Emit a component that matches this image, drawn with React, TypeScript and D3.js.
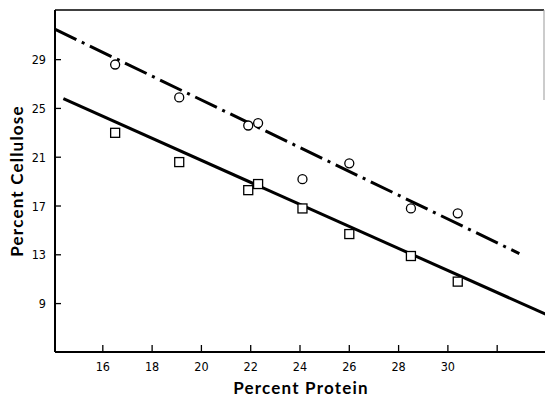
import * as d3 from "d3";
import { useEffect, useRef } from "react";

// protein (x) vs cellulose (y)
const circleProtein = [16.5, 19.1, 21.9, 22.3, 24.1, 26.0, 28.5, 30.4];
const circleCellulose = [28.6, 25.9, 23.6, 23.8, 19.2, 20.5, 16.8, 16.4];
const squareProtein = [16.5, 19.1, 21.9, 22.3, 24.1, 26.0, 28.5, 30.4];
const squareCellulose = [23.0, 20.6, 18.3, 18.8, 16.8, 14.7, 12.9, 10.8];

// fitted lines (end points)
const dashLineX = [14.05, 32.9];
const dashLineY = [31.5, 13.1];
const solidLineX = [14.4, 34.0];
const solidLineY = [25.8, 8.1];

const xTicks = [16, 18, 20, 22, 24, 26, 28, 30, 32];
const xTickLabels = ["16", "18", "20", "22", "24", "26", "28", "30", ""];
const yTicks = [9, 13, 17, 21, 25, 29];

const App = () => {
    const svgRef = useRef(null);

    useEffect(() => {
        const svg = d3.select(svgRef.current);
        svg.selectAll("*").remove();

        const width = 545;
        const height = 402;
        const left = 55, right = 545, top = 10, bottom = 352;

        svg.attr("width", width).attr("height", height);

        const x = d3.scaleLinear().domain([14.06, 33.94]).range([left, right]);
        const y = d3.scaleLinear().domain([5.03, 33.07]).range([bottom, top]);

        const font = "'DejaVu Sans Condensed', 'DejaVu Sans', sans-serif";
        const titleFont = "Lato, 'DejaVu Sans', sans-serif";

        // frame
        svg.append("line").attr("x1", left).attr("x2", left).attr("y1", top).attr("y2", bottom)
            .attr("stroke", "#000").attr("stroke-width", 2);
        svg.append("line").attr("x1", left).attr("x2", right).attr("y1", bottom).attr("y2", bottom)
            .attr("stroke", "#000").attr("stroke-width", 2);
        svg.append("line").attr("x1", left).attr("x2", right - 1).attr("y1", top).attr("y2", top)
            .attr("stroke", "#000").attr("stroke-width", 1.6);
        svg.append("line").attr("x1", right - 1).attr("x2", right - 1).attr("y1", top).attr("y2", 100)
            .attr("stroke", "#999").attr("stroke-width", 1);

        // x ticks
        svg.selectAll(".xt").data(xTicks).enter().append("line")
            .attr("x1", d => x(d)).attr("x2", d => x(d))
            .attr("y1", bottom).attr("y2", bottom - 7)
            .attr("stroke", "#000").attr("stroke-width", 1.3);
        svg.selectAll(".xl").data(xTicks).enter().append("text")
            .attr("x", d => x(d)).attr("y", 371)
            .attr("text-anchor", "middle")
            .attr("font-family", font).attr("font-size", 12.5)
            .text((d, i) => xTickLabels[i]);

        // y ticks
        svg.selectAll(".yt").data(yTicks).enter().append("line")
            .attr("x1", left).attr("x2", left + 6)
            .attr("y1", d => y(d)).attr("y2", d => y(d))
            .attr("stroke", "#000").attr("stroke-width", 1.3);
        svg.selectAll(".yl").data(yTicks).enter().append("text")
            .attr("x", 46).attr("y", d => y(d) + 4.5)
            .attr("text-anchor", "end")
            .attr("font-family", font).attr("font-size", 12.5)
            .text(d => d);

        // axis titles
        svg.append("text")
            .attr("x", 301).attr("y", 394)
            .attr("text-anchor", "middle")
            .attr("font-family", titleFont).attr("font-size", 17)
            .attr("font-weight", "bold").attr("letter-spacing", 1.2)
            .text("Percent Protein");
        svg.append("text")
            .attr("transform", "translate(23,181) rotate(-90)")
            .attr("text-anchor", "middle")
            .attr("font-family", titleFont).attr("font-size", 17)
            .attr("font-weight", "bold").attr("letter-spacing", 1.2)
            .text("Percent Cellulose");

        const line = d3.line().x(d => x(d[0])).y(d => y(d[1]));

        svg.append("path")
            .attr("d", line(d3.zip(dashLineX, dashLineY)))
            .attr("fill", "none").attr("stroke", "#000").attr("stroke-width", 3)
            .attr("stroke-dasharray", "24 6 3 6");
        svg.append("path")
            .attr("d", line(d3.zip(solidLineX, solidLineY)))
            .attr("fill", "none").attr("stroke", "#000").attr("stroke-width", 3);

        // markers
        svg.selectAll(".c").data(d3.zip(circleProtein, circleCellulose)).enter().append("circle")
            .attr("cx", d => x(d[0])).attr("cy", d => y(d[1])).attr("r", 4.5)
            .attr("fill", "#fff").attr("stroke", "#000").attr("stroke-width", 1.3);
        svg.selectAll(".s").data(d3.zip(squareProtein, squareCellulose)).enter().append("rect")
            .attr("x", d => x(d[0]) - 4.5).attr("y", d => y(d[1]) - 4.5)
            .attr("width", 9).attr("height", 9)
            .attr("fill", "#fff").attr("stroke", "#000").attr("stroke-width", 1.3);
    }, []);

    return (
        <svg ref={svgRef} style={{ position: "absolute", left: 0, top: 0, background: "#fff" }}></svg>
    );
};

export default App;
